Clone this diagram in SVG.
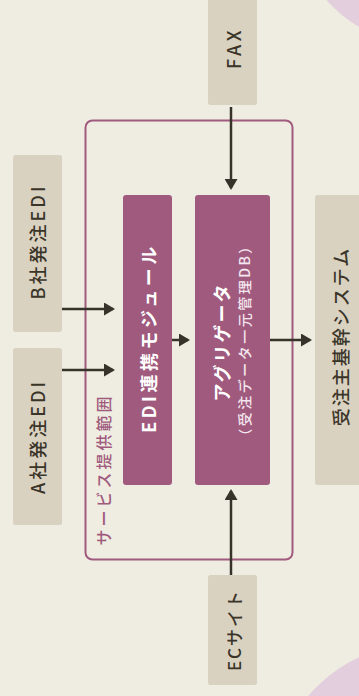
<svg xmlns="http://www.w3.org/2000/svg" width="359" height="696" viewBox="0 0 359 696">
<defs>
<style>
.bg{fill:#efede1}
.deco{fill:#e2cedd}
.ext{fill:#d9d2c1}
.mod{fill:#a05a7e}
.scope{fill:none;stroke:#a05a7e;stroke-width:2}
.t{font-family:"Noto Sans CJK JP","Noto Sans",sans-serif;text-anchor:middle;dominant-baseline:central}
.dark{fill:#3b3529;font-size:18px;font-weight:500;letter-spacing:3px}
.white{fill:#ffffff;font-size:18px;font-weight:700;letter-spacing:3.5px}
.sub{fill:#f3e6ee;font-size:14px;font-weight:500;letter-spacing:2.5px}
.lbl{fill:#a05a7e;font-size:16px;font-weight:500;letter-spacing:3px}
.conn line{stroke:#37332a;stroke-width:2.5}
</style>
<marker id="ah" viewBox="0 0 11 13" refX="9" refY="6.5" markerWidth="11" markerHeight="13" markerUnits="userSpaceOnUse" orient="auto">
<path d="M0,0 L11,6.5 L0,13 z" fill="#37332a"/>
</marker>
</defs>
<rect class="bg" x="0" y="0" width="359" height="696"/>
<circle class="deco" cx="420" cy="-80" r="123"/>
<circle class="deco" cx="420" cy="790" r="146"/>

<g id="scope">
<rect class="scope" x="85.5" y="120.5" width="207" height="439" rx="7"/>
<text class="t lbl" transform="translate(103,469.5) rotate(-90)">サービス提供範囲</text>
</g>

<g id="fax">
<rect class="ext" x="208" y="-4" width="49" height="109" rx="2.5"/>
<text class="t dark" transform="translate(233,48) rotate(-90)" style="letter-spacing:3.5px">FAX</text>
</g>

<g id="bedi">
<rect class="ext" x="13" y="155" width="49" height="177" rx="2.5"/>
<text class="t dark" transform="translate(37,241.5) rotate(-90)">B社発注EDI</text>
</g>

<g id="aedi">
<rect class="ext" x="13" y="348" width="49" height="177" rx="2.5"/>
<text class="t dark" transform="translate(37,436.5) rotate(-90)">A社発注EDI</text>
</g>

<g id="edimod">
<rect class="mod" x="123" y="195" width="49" height="290" rx="3"/>
<text class="t white" transform="translate(148,338) rotate(-90)">EDI連携モジュール</text>
</g>

<g id="aggregator">
<rect class="mod" x="195" y="195" width="75" height="290" rx="3"/>
<text class="t white" transform="translate(221,342) rotate(-90)" style="letter-spacing:2px">アグリゲータ</text>
<text class="t sub" transform="translate(243.5,340) rotate(-90)">（受注データ一元管理DB）</text>
</g>

<g id="core">
<rect class="ext" x="315" y="195" width="50" height="290" rx="2.5"/>
<text class="t dark" transform="translate(340,336.5) rotate(-90)" style="letter-spacing:2px">受注主基幹システム</text>
</g>

<g id="ec">
<rect class="ext" x="208" y="575" width="49" height="110" rx="2.5"/>
<text class="t dark" transform="translate(233,630) rotate(-90)" style="font-size:17px;letter-spacing:2px">ECサイト</text>
</g>

<g id="connectors" class="conn">
<line x1="231" y1="107" x2="231" y2="188" marker-end="url(#ah)"/>
<line x1="62" y1="309" x2="113" y2="309" marker-end="url(#ah)"/>
<line x1="62" y1="370" x2="113" y2="370" marker-end="url(#ah)"/>
<line x1="172" y1="340" x2="188" y2="340" marker-end="url(#ah)"/>
<line x1="270" y1="340" x2="310" y2="340" marker-end="url(#ah)"/>
<line x1="231" y1="575" x2="231" y2="491" marker-end="url(#ah)"/>
</g>
</svg>
